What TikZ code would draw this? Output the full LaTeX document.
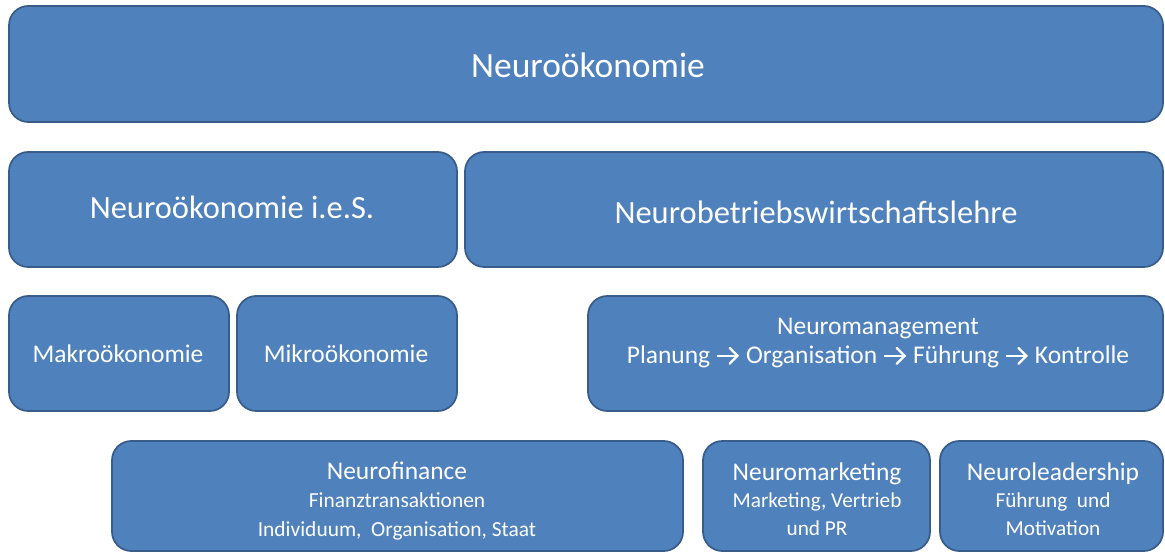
\documentclass[tikz,border=0pt]{standalone}
\usepackage{fontspec}
\setmainfont{Carlito}
\usetikzlibrary{arrows.meta}

\definecolor{boxfill}{HTML}{4F81BD}
\definecolor{boxline}{HTML}{385D8A}

\tikzset{
  blockbox/.style={draw=boxline, fill=boxfill, line width=1pt, rounded corners=11pt},
  boxtext/.style={text=white, align=center, inner sep=0pt},
}
\newcommand{\stepto}{\tikz[baseline=-4.6pt]\draw[white, line width=1.3pt,
  -{Straight Barb[length=4.5pt, width=9pt, line cap=round]}] (0,0) -- (12.5pt,0);}

\begin{document}
\begin{tikzpicture}[x=0.02cm, y=-0.02cm]
\useasboundingbox (0,0) rectangle (1165,553);

% ── Level 1 ──
\draw[blockbox] (9,6) rectangle (1163,122);
\node[boxtext, font=\fontsize{20.2}{24}\selectfont] (neurooek) at (588,65) {Neuroökonomie};

% ── Level 2 ──
\draw[blockbox] (9,152) rectangle (457,267);
\node[boxtext, font=\fontsize{18.5}{22}\selectfont] (ies) at (232,207) {Neuroökonomie i.e.S.};

\draw[blockbox] (465,152) rectangle (1163,267);
\node[boxtext, font=\fontsize{18.5}{22}\selectfont] (nbwl) at (816,212) {Neurobetriebswirtschaftslehre};

% ── Level 3 ──
\draw[blockbox] (9,296) rectangle (229,411);
\node[boxtext, font=\fontsize{14.5}{17}\selectfont] (makro) at (118,354) {Makroökonomie};

\draw[blockbox] (237,296) rectangle (457,411);
\node[boxtext, font=\fontsize{14.5}{17}\selectfont] (mikro) at (346,354) {Mikroökonomie};

\draw[blockbox] (588,296) rectangle (1163,411);
\node[boxtext, font=\fontsize{14.5}{17}\selectfont] (management) at (878,343)
  {Neuromanagement\\Planung \stepto{} Organisation \stepto{} Führung \stepto{} Kontrolle};

% ── Level 4 ──
\draw[blockbox] (112,441) rectangle (683,551);
\node[boxtext, font=\fontsize{12.2}{16.3}\selectfont] (finance) at (397,501)
  {{\fontsize{14.5}{16.3}\selectfont Neurofinance}\\Finanztransaktionen\\Individuum,\ \ Organisation, Staat};

\draw[blockbox] (703,441) rectangle (930,551);
\node[boxtext, font=\fontsize{12.1}{15.8}\selectfont] (marketing) at (817,499)
  {{\fontsize{14.5}{15.8}\selectfont Neuromarketing}\\Marketing, Vertrieb\\und PR};

\draw[blockbox] (940,441) rectangle (1163,551);
\node[boxtext, font=\fontsize{12.1}{15.8}\selectfont] (leadership) at (1053,499)
  {{\fontsize{14.5}{15.8}\selectfont Neuroleadership}\\Führung\ \ und\\Motivation};

\end{tikzpicture}
\end{document}
